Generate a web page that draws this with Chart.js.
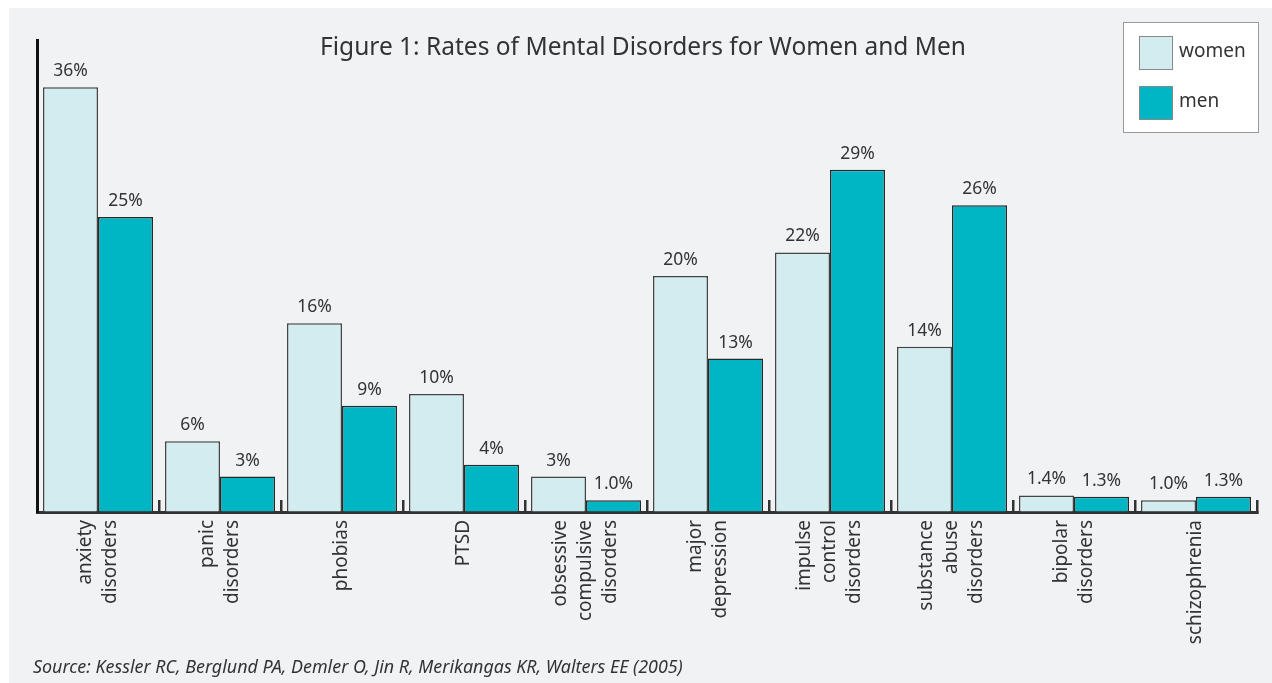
<!DOCTYPE html>
<html>
<head>
<meta charset="utf-8">
<script src="https://cdn.jsdelivr.net/npm/chart.js@4.4.0/dist/chart.umd.min.js"></script>
<style>
  body { margin: 0; background: #fff; }
  #wrap { width: 1272px; height: 683px; }
</style>
</head>
<body>
<div id="wrap"><canvas id="myChart"></canvas></div>
<script>
// categorias (lineas de cada etiqueta)
const categories = [
  ['anxiety', 'disorders'],
  ['panic', 'disorders'],
  ['phobias'],
  ['PTSD'],
  ['obsessive', 'compulsive', 'disorders'],
  ['major', 'depression'],
  ['impulse', 'control', 'disorders'],
  ['substance', 'abuse', 'disorders'],
  ['bipolar', 'disorders'],
  ['schizophrenia']
];
const women = [36, 6, 16, 10, 3, 20, 22, 14, 1.4, 1.0];
const men = [25, 3, 9, 4, 1.0, 13, 29, 26, 1.3, 1.3];
const womenLabels = ['36%', '6%', '16%', '10%', '3%', '20%', '22%', '14%', '1.4%', '1.0%'];
const menLabels = ['25%', '3%', '9%', '4%', '1.0%', '13%', '29%', '26%', '1.3%', '1.3%'];
const seriesNames = ['women', 'men'];
const titleText = 'Figure 1: Rates of Mental Disorders for Women and Men';
const sourceText = 'Source: Kessler RC, Berglund PA, Demler O, Jin R, Merikangas KR, Walters EE (2005)';

const FONT = '"Noto Sans", "Open Sans", sans-serif';
const TEXT = '#333';

// fondo gris con borde blanco arriba e izquierda
const background = {
  id: 'background',
  beforeDraw(chart) {
    const ctx = chart.ctx;
    ctx.save();
    ctx.fillStyle = '#fff';
    ctx.fillRect(0, 0, chart.width, chart.height);
    ctx.fillStyle = '#f1f2f4';
    ctx.fillRect(9, 8, chart.width - 9, chart.height - 8);
    ctx.restore();
  }
};

// etiquetas de valor encima de las barras
const valueLabels = {
  id: 'valueLabels',
  afterDatasetsDraw(chart) {
    const ctx = chart.ctx;
    const texts = [womenLabels, menLabels];
    ctx.save();
    ctx.font = '17.5px ' + FONT;
    ctx.fillStyle = TEXT;
    ctx.textAlign = 'center';
    ctx.textBaseline = 'alphabetic';
    chart.data.datasets.forEach((ds, d) => {
      chart.getDatasetMeta(d).data.forEach((bar, i) => {
        ctx.fillText(texts[d][i], bar.x, bar.y - 11);
      });
    });
    ctx.restore();
  }
};

// etiquetas del eje x giradas, centradas en el grupo
const catLabels = {
  id: 'catLabels',
  afterDraw(chart) {
    const ctx = chart.ctx;
    const xs = chart.scales.x;
    ctx.save();
    ctx.font = '19px ' + FONT;
    ctx.fillStyle = TEXT;
    ctx.textAlign = 'right';
    ctx.textBaseline = 'middle';
    categories.forEach((lines, i) => {
      const x = xs.getPixelForTick(i);
      lines.forEach((line, j) => {
        ctx.save();
        ctx.translate(x + (j - (lines.length - 1) / 2) * 25, xs.top + 8);
        ctx.rotate(-Math.PI / 2);
        ctx.fillText(line, 0, 0);
        ctx.restore();
      });
    });
    ctx.restore();
  }
};

// titulo, leyenda con caja y fuente
const extras = {
  id: 'extras',
  afterDraw(chart) {
    const ctx = chart.ctx;
    ctx.save();
    ctx.fillStyle = TEXT;
    ctx.font = '24.5px ' + FONT;
    ctx.textAlign = 'center';
    ctx.textBaseline = 'middle';
    ctx.fillText(titleText, 643, 48);

    ctx.fillStyle = '#fff';
    ctx.fillRect(1123.5, 22.5, 135, 110);
    ctx.strokeStyle = '#999';
    ctx.lineWidth = 1;
    ctx.strokeRect(1123.5, 22.5, 135, 110);
    chart.data.datasets.forEach((ds, d) => {
      const y = 36 + d * 50;
      ctx.fillStyle = ds.backgroundColor;
      ctx.fillRect(1139, y, 33, 33);
      ctx.strokeStyle = '#888';
      ctx.strokeRect(1139.5, y + 0.5, 33, 33);
      ctx.fillStyle = TEXT;
      ctx.font = '19px ' + FONT;
      ctx.textAlign = 'left';
      ctx.fillText(ds.label, 1179, y + 16);
    });

    ctx.font = 'italic 17.9px ' + FONT;
    ctx.textAlign = 'left';
    ctx.textBaseline = 'alphabetic';
    ctx.fillStyle = TEXT;
    ctx.fillText(sourceText, 33, 673);
    ctx.restore();
  }
};

const ctx = document.getElementById('myChart');

const dataset = {
  labels: categories,
  datasets: [{
    label: seriesNames[0],
    data: women,
    backgroundColor: '#d3ecef',
    borderColor: '#444',
    borderWidth: 1.5
  }, {
    label: seriesNames[1],
    data: men,
    backgroundColor: '#00b6c4',
    borderColor: '#2a2a2a',
    borderWidth: 1.5
  }]
};

const config = {
  type: 'bar',
  data: dataset,
  options: {
    responsive: true,
    maintainAspectRatio: false,
    animation: false,
    layout: { padding: { top: 40, right: 15, left: 0, bottom: 0 } },
    datasets: { bar: { categoryPercentage: 0.9016, barPercentage: 1.0 } },
    plugins: { legend: { display: false }, tooltip: { enabled: false } },
    scales: {
      x: {
        ticks: { display: false },
        grid: { drawOnChartArea: false, drawTicks: true, tickLength: -12, color: '#333', lineWidth: 2.5, offset: true },
        border: { color: '#333', width: 3 },
        afterFit(s) { s.height = 171; }
      },
      y: {
        min: 0,
        max: 40,
        ticks: { display: false },
        grid: { drawOnChartArea: false, drawTicks: false },
        border: { color: '#111', width: 3 },
        afterFit(s) { s.width = 37; }
      }
    }
  },
  plugins: [background, valueLabels, catLabels, extras]
};

const chart = new Chart(ctx, config);
</script>
</body>
</html>
